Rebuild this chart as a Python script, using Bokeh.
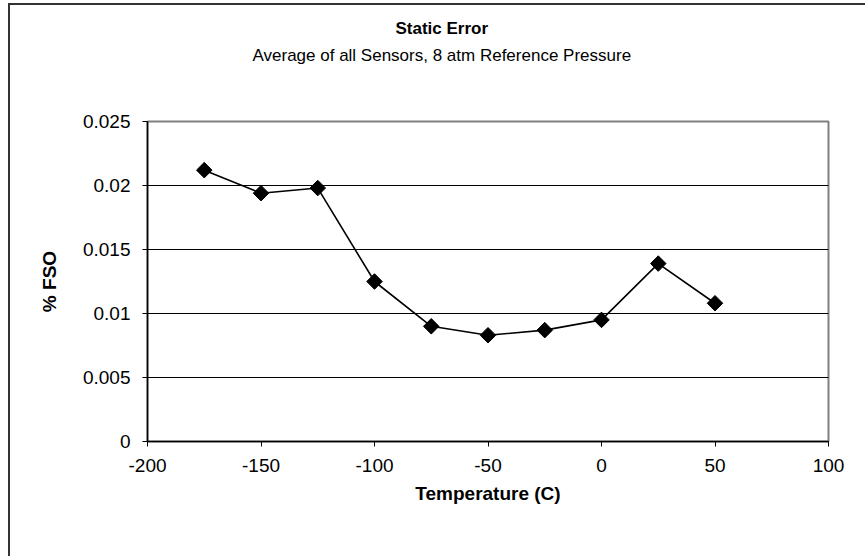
import math
from bokeh.plotting import figure
from bokeh.embed import file_html
from bokeh.resources import INLINE
from bokeh.models import Range1d, FixedTicker, Title

temperature = [-175, -150, -125, -100, -75, -50, -25, 0, 25, 50]
fso = [0.0212, 0.0194, 0.0198, 0.0125, 0.0090, 0.0083, 0.0087, 0.0095, 0.0139, 0.0108]

x_ticks = [-200, -150, -100, -50, 0, 50, 100]
x_tick_labels = ["-200", "-150", "-100", "-50", "0", "50", "100"]
y_ticks = [0, 0.005, 0.01, 0.015, 0.02, 0.025]
y_tick_labels = ["0", "0.005", "0.01", "0.015", "0.02", "0.025"]

FONT = "Liberation Sans"

p = figure(width=857, height=553, output_backend="svg", toolbar_location=None,
           x_range=Range1d(-200, 100), y_range=Range1d(0, 0.025),
           min_border_left=137, min_border_right=39, min_border_top=116, min_border_bottom=117)

spacer = Title(text=" ", text_font=FONT, text_font_size="1px", standoff=51)
t2 = Title(text="Average of all Sensors, 8 atm Reference Pressure", align="left",
           text_font=FONT, text_font_size="17px", text_font_style="normal",
           text_color="black", offset=105, standoff=6)
t1 = Title(text="Static Error", align="left", text_font=FONT, text_font_size="17px",
           text_font_style="bold", text_color="black", offset=248, standoff=6)
p.add_layout(spacer, "above")
p.add_layout(t2, "above")
p.add_layout(t1, "above")

p.outline_line_color = "#808080"
p.outline_line_width = 2
p.background_fill_color = "white"
p.border_fill_color = "white"

p.xgrid.visible = False
p.ygrid.grid_line_color = "black"
p.ygrid.grid_line_width = 1
p.ygrid.ticker = FixedTicker(ticks=y_ticks)

p.xaxis.ticker = FixedTicker(ticks=x_ticks)
p.yaxis.ticker = FixedTicker(ticks=y_ticks)
p.xaxis.major_label_overrides = {t: l for t, l in zip(x_ticks, x_tick_labels)}
p.yaxis.major_label_overrides = {t: l for t, l in zip(y_ticks, y_tick_labels)}

for ax in (p.xaxis[0], p.yaxis[0]):
    ax.axis_line_color = "black"
    ax.axis_line_width = 1.5
    ax.major_tick_line_color = "black"
    ax.major_tick_out = 5
    ax.major_tick_in = 0
    ax.minor_tick_line_color = None
    ax.major_label_text_font = FONT
    ax.major_label_text_font_size = "19px"
    ax.major_label_text_color = "black"
    ax.axis_label_text_font = FONT
    ax.axis_label_text_font_size = "19px"
    ax.axis_label_text_font_style = "bold"
    ax.axis_label_text_color = "black"

p.xaxis.axis_label = "Temperature (C)"
p.yaxis.axis_label = "% FSO"
p.xaxis.major_label_standoff = 12
p.xaxis.axis_label_standoff = 8
p.yaxis.major_label_standoff = 12
p.yaxis.axis_label_standoff = 20

p.line(temperature, fso, line_color="black", line_width=1.6)
p.scatter(temperature, fso, marker="square", angle=math.pi / 4, size=11,
          fill_color="black", line_color="black")

p.styles = {"margin-left": "8px", "margin-top": "3px",
            "border-left": "2px solid #333", "border-top": "2px solid #333"}

open("out.html", "w").write(file_html(p, INLINE))
